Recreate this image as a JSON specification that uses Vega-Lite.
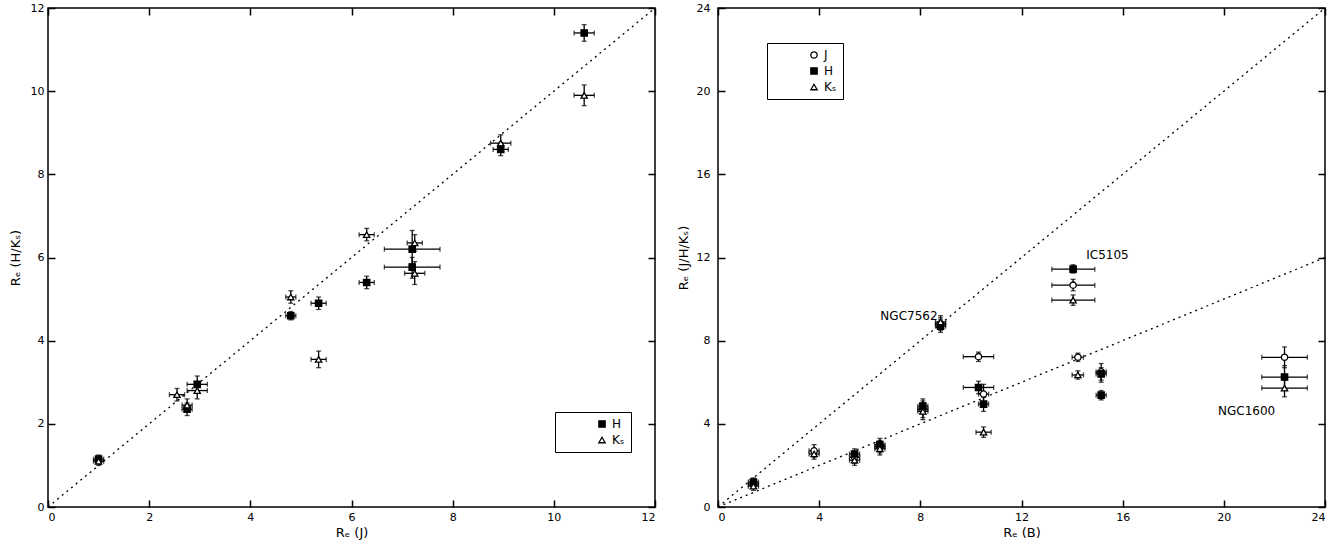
{
  "$schema": "https://vega.github.io/schema/vega-lite/v6.json",
  "background": "white",
  "padding": {"left": 8, "top": 1, "right": 5, "bottom": 2},
  "bounds": "flush",
  "spacing": 63,
  "resolve": {"scale": {"shape": "independent", "fill": "independent", "stroke": "independent"}, "legend": {"shape": "independent", "fill": "independent", "stroke": "independent"}},
  "config": {
    "font": "DejaVu Sans",
    "view": {"stroke": "black", "strokeWidth": 1.5},
    "axis": {
      "domain": false, "grid": false, "ticks": true, "tickSize": -7, "tickColor": "black", "tickWidth": 1.5,
      "labelPadding": 11, "labelColor": "black", "labelFontSize": 11, "labelFont": "DejaVu Sans",
      "titleColor": "black", "titleFontSize": 13, "titleFontWeight": "normal", "titleFont": "DejaVu Sans"
    },
    "legend": {
      "strokeColor": "black", "fillColor": "white", "padding": 5, "labelFontSize": 12, "labelColor": "black",
      "symbolStrokeWidth": 1.3, "symbolSize": 40, "rowPadding": 4, "labelFont": "DejaVu Sans"
    }
  },
  "datasets": {
    "left": [
      {"series": "H", "x": 1.0, "y": 1.15, "xlo": 0.9, "xhi": 1.1, "ylo": 1.05, "yhi": 1.25},
      {"series": "Kₛ", "x": 1.0, "y": 1.1, "xlo": 0.9, "xhi": 1.1, "ylo": 1.0, "yhi": 1.2},
      {"series": "Kₛ", "x": 2.55, "y": 2.7, "xlo": 2.4, "xhi": 2.7, "ylo": 2.55, "yhi": 2.85},
      {"series": "H", "x": 2.75, "y": 2.35, "xlo": 2.65, "xhi": 2.85, "ylo": 2.2, "yhi": 2.5},
      {"series": "Kₛ", "x": 2.75, "y": 2.45, "xlo": 2.65, "xhi": 2.85, "ylo": 2.3, "yhi": 2.6},
      {"series": "H", "x": 2.95, "y": 2.95, "xlo": 2.75, "xhi": 3.15, "ylo": 2.75, "yhi": 3.15},
      {"series": "Kₛ", "x": 2.95, "y": 2.8, "xlo": 2.75, "xhi": 3.15, "ylo": 2.6, "yhi": 3.0},
      {"series": "Kₛ", "x": 4.8, "y": 5.05, "xlo": 4.7, "xhi": 4.9, "ylo": 4.9, "yhi": 5.2},
      {"series": "H", "x": 4.8, "y": 4.6, "xlo": 4.7, "xhi": 4.9, "ylo": 4.5, "yhi": 4.7},
      {"series": "H", "x": 5.35, "y": 4.9, "xlo": 5.2, "xhi": 5.5, "ylo": 4.75, "yhi": 5.05},
      {"series": "Kₛ", "x": 5.35, "y": 3.55, "xlo": 5.2, "xhi": 5.5, "ylo": 3.35, "yhi": 3.75},
      {"series": "Kₛ", "x": 6.3, "y": 6.55, "xlo": 6.15, "xhi": 6.45, "ylo": 6.4, "yhi": 6.7},
      {"series": "H", "x": 6.3, "y": 5.4, "xlo": 6.15, "xhi": 6.45, "ylo": 5.25, "yhi": 5.55},
      {"series": "Kₛ", "x": 7.25, "y": 6.35, "xlo": 7.1, "xhi": 7.4, "ylo": 6.15, "yhi": 6.55},
      {"series": "H", "x": 7.2, "y": 6.2, "xlo": 6.65, "xhi": 7.75, "ylo": 5.85, "yhi": 6.65},
      {"series": "H", "x": 7.2, "y": 5.77, "xlo": 6.65, "xhi": 7.75, "ylo": 5.5, "yhi": 6.0},
      {"series": "Kₛ", "x": 7.25, "y": 5.62, "xlo": 7.05, "xhi": 7.45, "ylo": 5.35, "yhi": 5.9},
      {"series": "Kₛ", "x": 8.95, "y": 8.75, "xlo": 8.75, "xhi": 9.15, "ylo": 8.55, "yhi": 8.95},
      {"series": "H", "x": 8.95, "y": 8.6, "xlo": 8.8, "xhi": 9.1, "ylo": 8.45, "yhi": 8.75},
      {"series": "H", "x": 10.6, "y": 11.4, "xlo": 10.4, "xhi": 10.8, "ylo": 11.2, "yhi": 11.6},
      {"series": "Kₛ", "x": 10.6, "y": 9.9, "xlo": 10.4, "xhi": 10.8, "ylo": 9.65, "yhi": 10.15}
    ],
    "right": [
      {"series": "J", "x": 1.4, "y": 1.1, "xlo": 1.2, "xhi": 1.6, "ylo": 0.9, "yhi": 1.3},
      {"series": "H", "x": 1.4, "y": 1.2, "xlo": 1.2, "xhi": 1.6, "ylo": 1.0, "yhi": 1.4},
      {"series": "Kₛ", "x": 1.4, "y": 1.0, "xlo": 1.2, "xhi": 1.6, "ylo": 0.8, "yhi": 1.2},
      {"series": "J", "x": 3.8, "y": 2.7, "xlo": 3.6, "xhi": 4.0, "ylo": 2.4, "yhi": 3.0},
      {"series": "Kₛ", "x": 3.8, "y": 2.55, "xlo": 3.6, "xhi": 4.0, "ylo": 2.3, "yhi": 2.8},
      {"series": "J", "x": 5.4, "y": 2.4, "xlo": 5.2, "xhi": 5.6, "ylo": 2.1, "yhi": 2.7},
      {"series": "H", "x": 5.4, "y": 2.55, "xlo": 5.2, "xhi": 5.6, "ylo": 2.3, "yhi": 2.8},
      {"series": "Kₛ", "x": 5.4, "y": 2.25, "xlo": 5.2, "xhi": 5.6, "ylo": 2.0, "yhi": 2.5},
      {"series": "J", "x": 6.4, "y": 2.9, "xlo": 6.2, "xhi": 6.6, "ylo": 2.6, "yhi": 3.2},
      {"series": "H", "x": 6.4, "y": 3.0, "xlo": 6.2, "xhi": 6.6, "ylo": 2.7, "yhi": 3.3},
      {"series": "Kₛ", "x": 6.4, "y": 2.8, "xlo": 6.2, "xhi": 6.6, "ylo": 2.5, "yhi": 3.1},
      {"series": "J", "x": 8.1, "y": 4.7, "xlo": 7.9, "xhi": 8.3, "ylo": 4.3, "yhi": 5.1},
      {"series": "H", "x": 8.1, "y": 4.85, "xlo": 7.9, "xhi": 8.3, "ylo": 4.5, "yhi": 5.2},
      {"series": "Kₛ", "x": 8.1, "y": 4.6, "xlo": 7.9, "xhi": 8.3, "ylo": 4.2, "yhi": 5.0},
      {"series": "J", "x": 8.8, "y": 8.8, "xlo": 8.6, "xhi": 9.0, "ylo": 8.5, "yhi": 9.1},
      {"series": "H", "x": 8.8, "y": 8.7, "xlo": 8.6, "xhi": 9.0, "ylo": 8.4, "yhi": 9.0},
      {"series": "Kₛ", "x": 8.8, "y": 8.9, "xlo": 8.6, "xhi": 9.0, "ylo": 8.6, "yhi": 9.2},
      {"series": "J", "x": 10.3, "y": 7.23, "xlo": 9.7, "xhi": 10.9, "ylo": 7.0, "yhi": 7.45},
      {"series": "H", "x": 10.3, "y": 5.75, "xlo": 9.7, "xhi": 10.9, "ylo": 5.45, "yhi": 6.05},
      {"series": "J", "x": 10.5, "y": 5.43, "xlo": 10.3, "xhi": 10.7, "ylo": 5.0, "yhi": 5.9},
      {"series": "H", "x": 10.5, "y": 4.95, "xlo": 10.3, "xhi": 10.7, "ylo": 4.6, "yhi": 5.3},
      {"series": "Kₛ", "x": 10.5, "y": 3.6, "xlo": 10.2, "xhi": 10.8, "ylo": 3.35, "yhi": 3.85},
      {"series": "H", "x": 14.04, "y": 11.44, "xlo": 13.2, "xhi": 14.9, "ylo": 11.25, "yhi": 11.65},
      {"series": "J", "x": 14.04, "y": 10.67, "xlo": 13.2, "xhi": 14.9, "ylo": 10.4, "yhi": 10.95},
      {"series": "Kₛ", "x": 14.04, "y": 9.95, "xlo": 13.2, "xhi": 14.9, "ylo": 9.7, "yhi": 10.2},
      {"series": "J", "x": 14.23, "y": 7.2, "xlo": 14.0, "xhi": 14.45, "ylo": 7.0, "yhi": 7.4},
      {"series": "Kₛ", "x": 14.23, "y": 6.35, "xlo": 14.0, "xhi": 14.45, "ylo": 6.15, "yhi": 6.55},
      {"series": "J", "x": 15.15, "y": 6.5, "xlo": 14.95, "xhi": 15.35, "ylo": 6.0, "yhi": 6.9},
      {"series": "H", "x": 15.15, "y": 6.4, "xlo": 14.95, "xhi": 15.35, "ylo": 6.1, "yhi": 6.7},
      {"series": "H", "x": 15.15, "y": 5.38, "xlo": 14.95, "xhi": 15.35, "ylo": 5.15, "yhi": 5.6},
      {"series": "J", "x": 22.4, "y": 7.2, "xlo": 21.5, "xhi": 23.3, "ylo": 6.7, "yhi": 7.7},
      {"series": "H", "x": 22.4, "y": 6.25, "xlo": 21.5, "xhi": 23.3, "ylo": 5.7, "yhi": 6.8},
      {"series": "Kₛ", "x": 22.4, "y": 5.72, "xlo": 21.5, "xhi": 23.3, "ylo": 5.3, "yhi": 6.1}
    ],
    "leftLines": [
      {"fit": "one", "x": 0, "y": 0},
      {"fit": "one", "x": 12, "y": 12}
    ],
    "rightLines": [
      {"fit": "one", "x": 0, "y": 0},
      {"fit": "one", "x": 24, "y": 24},
      {"fit": "half", "x": 0, "y": 0},
      {"fit": "half", "x": 24, "y": 12}
    ],
    "names": [
      {"name": "IC5105", "x": 15.4, "y": 12.1, "align": "left"},
      {"name": "NGC7562", "x": 7.55, "y": 9.2, "align": "right"},
      {"name": "NGC1600", "x": 20.9, "y": 4.6, "align": "center"}
    ]
  },
  "hconcat": [
    {
      "width": 607,
      "height": 499,
      "resolve": {"axis": {"x": "independent", "y": "independent"}},
      "layer": [
        {
          "data": {"name": "leftLines"},
          "mark": {"type": "line", "color": "black", "strokeWidth": 1.3, "strokeDash": [2, 4]},
          "encoding": {
            "x": {"field": "x", "type": "quantitative", "scale": {"domain": [0, 12], "nice": false}, "axis": {"orient": "top", "labels": false, "title": null, "values": [0, 2, 4, 6, 8, 10, 12]}},
            "y": {"field": "y", "type": "quantitative", "scale": {"domain": [0, 12], "nice": false}, "axis": {"orient": "right", "labels": false, "title": null, "values": [0, 2, 4, 6, 8, 10, 12]}},
            "detail": {"field": "fit"}
          }
        },
        {
          "data": {"name": "left"},
          "mark": {"type": "errorbar", "ticks": true, "color": "black", "thickness": 1.3},
          "encoding": {
            "x": {"field": "xlo", "type": "quantitative", "axis": null},
            "x2": {"field": "xhi"},
            "y": {"field": "y", "type": "quantitative", "axis": null}
          }
        },
        {
          "data": {"name": "left"},
          "mark": {"type": "errorbar", "ticks": true, "color": "black", "thickness": 1.3},
          "encoding": {
            "y": {"field": "ylo", "type": "quantitative", "axis": null},
            "y2": {"field": "yhi"},
            "x": {"field": "x", "type": "quantitative", "axis": null}
          }
        },
        {
          "data": {"name": "left"},
          "mark": {"type": "point", "size": 40, "opacity": 1, "strokeWidth": 1.3},
          "encoding": {
            "x": {"field": "x", "type": "quantitative", "axis": {"orient": "bottom", "title": "Rₑ (J)", "values": [0, 2, 4, 6, 8, 10, 12], "titlePadding": 4}},
            "y": {"field": "y", "type": "quantitative", "axis": {"orient": "left", "title": "Rₑ (H/Kₛ)", "values": [0, 2, 4, 6, 8, 10, 12], "titlePadding": 8}},
            "shape": {"field": "series", "type": "nominal", "scale": {"domain": ["H", "Kₛ"], "range": ["square", "triangle-up"]},
              "legend": {"title": null, "orient": "none", "legendX": 507, "legendY": 404, "symbolOffset": 35, "padding": 6}},
            "fill": {"field": "series", "type": "nominal", "scale": {"domain": ["H", "Kₛ"], "range": ["black", "white"]},
              "legend": {"title": null, "orient": "none", "legendX": 507, "legendY": 404, "symbolOffset": 35, "padding": 6}},
            "stroke": {"field": "series", "type": "nominal", "scale": {"domain": ["H", "Kₛ"], "range": ["black", "black"]},
              "legend": {"title": null, "orient": "none", "legendX": 507, "legendY": 404, "symbolOffset": 35, "padding": 6}}
          }
        }
      ]
    },
    {
      "width": 607,
      "height": 499,
      "resolve": {"axis": {"x": "independent", "y": "independent"}},
      "layer": [
        {
          "data": {"name": "rightLines"},
          "mark": {"type": "line", "color": "black", "strokeWidth": 1.3, "strokeDash": [2, 4]},
          "encoding": {
            "x": {"field": "x", "type": "quantitative", "scale": {"domain": [0, 24], "nice": false}, "axis": {"orient": "top", "labels": false, "title": null, "values": [0, 4, 8, 12, 16, 20, 24]}},
            "y": {"field": "y", "type": "quantitative", "scale": {"domain": [0, 24], "nice": false}, "axis": {"orient": "right", "labels": false, "title": null, "values": [0, 4, 8, 12, 16, 20, 24]}},
            "detail": {"field": "fit"}
          }
        },
        {
          "data": {"name": "right"},
          "mark": {"type": "errorbar", "ticks": true, "color": "black", "thickness": 1.3},
          "encoding": {
            "x": {"field": "xlo", "type": "quantitative", "axis": null},
            "x2": {"field": "xhi"},
            "y": {"field": "y", "type": "quantitative", "axis": null}
          }
        },
        {
          "data": {"name": "right"},
          "mark": {"type": "errorbar", "ticks": true, "color": "black", "thickness": 1.3},
          "encoding": {
            "y": {"field": "ylo", "type": "quantitative", "axis": null},
            "y2": {"field": "yhi"},
            "x": {"field": "x", "type": "quantitative", "axis": null}
          }
        },
        {
          "data": {"name": "names"},
          "mark": {"type": "text", "fontSize": 12, "color": "black", "font": "DejaVu Sans"},
          "encoding": {
            "x": {"field": "x", "type": "quantitative", "axis": null},
            "y": {"field": "y", "type": "quantitative", "axis": null},
            "text": {"field": "name"},
            "align": {"field": "align"}
          }
        },
        {
          "data": {"name": "right"},
          "mark": {"type": "point", "size": 40, "opacity": 1, "strokeWidth": 1.3},
          "encoding": {
            "x": {"field": "x", "type": "quantitative", "axis": {"orient": "bottom", "title": "Rₑ (B)", "values": [0, 4, 8, 12, 16, 20, 24], "titlePadding": 4}},
            "y": {"field": "y", "type": "quantitative", "axis": {"orient": "left", "title": "Rₑ (J/H/Kₛ)", "values": [0, 4, 8, 12, 16, 20, 24], "titlePadding": 6, "labelPadding": 15}},
            "shape": {"field": "series", "type": "nominal", "scale": {"domain": ["J", "H", "Kₛ"], "range": ["circle", "square", "triangle-up"]},
              "legend": {"title": null, "orient": "none", "legendX": 49, "legendY": 35, "symbolOffset": 35, "padding": 6}},
            "fill": {"field": "series", "type": "nominal", "scale": {"domain": ["J", "H", "Kₛ"], "range": ["white", "black", "white"]},
              "legend": {"title": null, "orient": "none", "legendX": 49, "legendY": 35, "symbolOffset": 35, "padding": 6}},
            "stroke": {"field": "series", "type": "nominal", "scale": {"domain": ["J", "H", "Kₛ"], "range": ["black", "black", "black"]},
              "legend": {"title": null, "orient": "none", "legendX": 49, "legendY": 35, "symbolOffset": 35, "padding": 6}}
          }
        }
      ]
    }
  ]
}
